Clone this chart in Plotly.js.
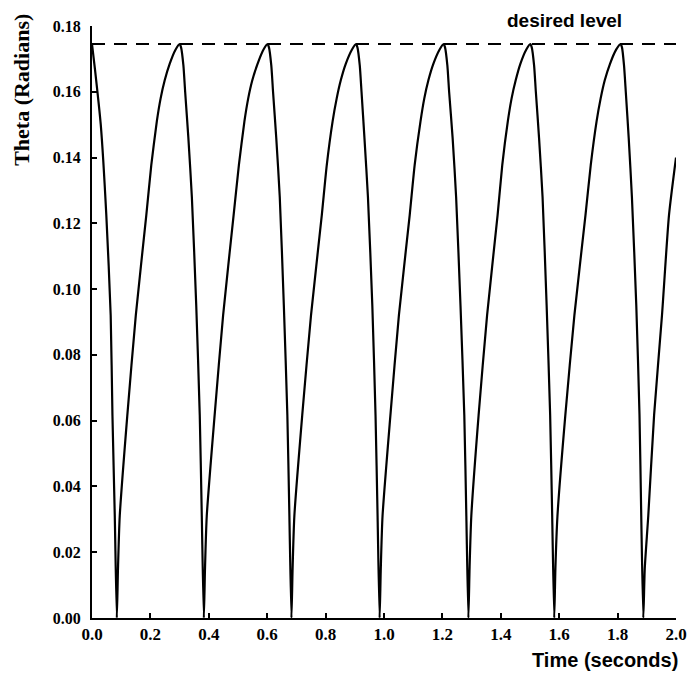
<!DOCTYPE html>
<html>
<head>
<meta charset="utf-8">
<script src="https://cdn.plot.ly/plotly-3.0.1.min.js"></script>
<style>html,body{margin:0;padding:0;background:#fff;}#chart{width:693px;height:676px;}</style>
</head>
<body>
<div id="chart"></div>
<script>
// Time (seconds) and Theta (radians)
var timeSeconds = [
  0.000, 0.010, 0.030, 0.049, 0.064, 0.070, 0.078, 0.085,
  0.089, 0.095, 0.121, 0.150, 0.186, 0.203, 0.222, 0.235, 0.249, 0.266, 0.286, 0.300,
  0.305, 0.313, 0.319, 0.330, 0.342, 0.357, 0.369, 0.376, 0.383,
  0.387, 0.393, 0.420, 0.449, 0.485, 0.503, 0.522, 0.535, 0.549, 0.567, 0.587, 0.601,
  0.606, 0.614, 0.620, 0.631, 0.643, 0.657, 0.669, 0.676, 0.683,
  0.687, 0.693, 0.720, 0.750, 0.787, 0.804, 0.824, 0.838, 0.852, 0.869, 0.890, 0.904,
  0.909, 0.917, 0.923, 0.933, 0.945, 0.960, 0.971, 0.978, 0.985,
  0.989, 0.995, 1.022, 1.051, 1.088, 1.105, 1.125, 1.138, 1.152, 1.169, 1.190, 1.204,
  1.209, 1.217, 1.223, 1.235, 1.247, 1.262, 1.275, 1.282, 1.289,
  1.293, 1.299, 1.324, 1.353, 1.389, 1.405, 1.424, 1.437, 1.451, 1.467, 1.487, 1.501,
  1.506, 1.514, 1.520, 1.531, 1.543, 1.557, 1.569, 1.576, 1.583,
  1.587, 1.594, 1.621, 1.652, 1.690, 1.708, 1.728, 1.742, 1.756, 1.774, 1.795, 1.810,
  1.815, 1.822, 1.828, 1.838, 1.849, 1.864, 1.875, 1.881, 1.888,
  1.893, 1.905, 1.925, 1.952, 1.976, 2.000
];
var thetaRadians = [
  0.1745, 0.167, 0.150, 0.1225, 0.092, 0.0617, 0.031, 0.000,
  0.015, 0.031, 0.0617, 0.092, 0.1225, 0.1377, 0.151, 0.158, 0.1635, 0.1685, 0.1728, 0.1745,
  0.1735, 0.168, 0.160, 0.146, 0.128, 0.095, 0.0617, 0.031, 0.000,
  0.015, 0.031, 0.0617, 0.092, 0.1225, 0.1377, 0.151, 0.158, 0.1635, 0.1685, 0.1728, 0.1745,
  0.1735, 0.168, 0.160, 0.146, 0.128, 0.095, 0.0617, 0.031, 0.000,
  0.015, 0.031, 0.0617, 0.092, 0.1225, 0.1377, 0.151, 0.158, 0.1635, 0.1685, 0.1728, 0.1745,
  0.1735, 0.168, 0.160, 0.146, 0.128, 0.095, 0.0617, 0.031, 0.000,
  0.015, 0.031, 0.0617, 0.092, 0.1225, 0.1377, 0.151, 0.158, 0.1635, 0.1685, 0.1728, 0.1745,
  0.1735, 0.168, 0.160, 0.146, 0.128, 0.095, 0.0617, 0.031, 0.000,
  0.015, 0.031, 0.0617, 0.092, 0.1225, 0.1377, 0.151, 0.158, 0.1635, 0.1685, 0.1728, 0.1745,
  0.1735, 0.168, 0.160, 0.146, 0.128, 0.095, 0.0617, 0.031, 0.000,
  0.015, 0.031, 0.0617, 0.092, 0.1225, 0.1377, 0.151, 0.158, 0.1635, 0.1685, 0.1728, 0.1745,
  0.1735, 0.168, 0.160, 0.146, 0.128, 0.095, 0.0617, 0.031, 0.000,
  0.015, 0.031, 0.0617, 0.092, 0.1225, 0.140
];
var desiredTime = [0.0, 2.0];
var desiredLevel = [0.1745, 0.1745];
var xTickValues = [0.0, 0.2, 0.4, 0.6, 0.8, 1.0, 1.2, 1.4, 1.6, 1.8, 2.0];
var xTickLabels = ["0.0", "0.2", "0.4", "0.6", "0.8", "1.0", "1.2", "1.4", "1.6", "1.8", "2.0"];
var yTickValues = [0.00, 0.02, 0.04, 0.06, 0.08, 0.10, 0.12, 0.14, 0.16, 0.18];
var yTickLabels = ["0.00", "0.02", "0.04", "0.06", "0.08", "0.10", "0.12", "0.14", "0.16", "0.18"];

var serif = "Liberation Serif, Times New Roman, serif";
var sans = "Liberation Sans, Arial, sans-serif";

var traces = [
  {
    x: desiredTime, y: desiredLevel, type: "scatter", mode: "lines",
    line: {color: "#000", width: 2, dash: "13px,9px"}, hoverinfo: "skip"
  },
  {
    x: timeSeconds, y: thetaRadians, type: "scatter", mode: "lines",
    line: {color: "#000", width: 2.2, shape: "spline", smoothing: 0.6}
  }
];

var layout = {
  width: 693, height: 676,
  margin: {l: 92, r: 17, t: 26, b: 58},
  paper_bgcolor: "#fff", plot_bgcolor: "#fff",
  showlegend: false,
  xaxis: {
    range: [0, 2.0], tickvals: xTickValues, ticktext: xTickLabels,
    showgrid: false, zeroline: false, showline: true, linecolor: "#000", linewidth: 2,
    ticks: "inside", ticklen: 5, tickwidth: 2, tickcolor: "#000",
    tickfont: {family: serif, size: 17, color: "#000", weight: "bold"},
    fixedrange: true
  },
  yaxis: {
    range: [0, 0.18], tickvals: yTickValues, ticktext: yTickLabels,
    showgrid: false, zeroline: false, showline: true, linecolor: "#000", linewidth: 2,
    ticks: "inside", ticklen: 5, tickwidth: 2, tickcolor: "#000",
    ticklabelstandoff: 6,
    tickfont: {family: serif, size: 16, color: "#000", weight: "bold"},
    fixedrange: true
  },
  annotations: [
    {
      text: "desired level", xref: "x", yref: "paper", x: 1.618, y: 1.01,
      xanchor: "center", yanchor: "middle", showarrow: false,
      font: {family: sans, size: 19, color: "#000", weight: "bold"}
    },
    {
      text: "Time (seconds)", xref: "paper", yref: "paper", x: 0.878, y: -0.071,
      xanchor: "center", yanchor: "middle", showarrow: false,
      font: {family: sans, size: 20, color: "#000", weight: "bold"}
    },
    {
      text: "Theta (Radians)", xref: "paper", yref: "paper", x: -0.12, y: 0.892,
      xanchor: "center", yanchor: "middle", showarrow: false, textangle: -90,
      font: {family: serif, size: 22, color: "#000", weight: "bold"}
    }
  ]
};

Plotly.newPlot("chart", traces, layout, {displayModeBar: false, staticPlot: true});
</script>
</body>
</html>
